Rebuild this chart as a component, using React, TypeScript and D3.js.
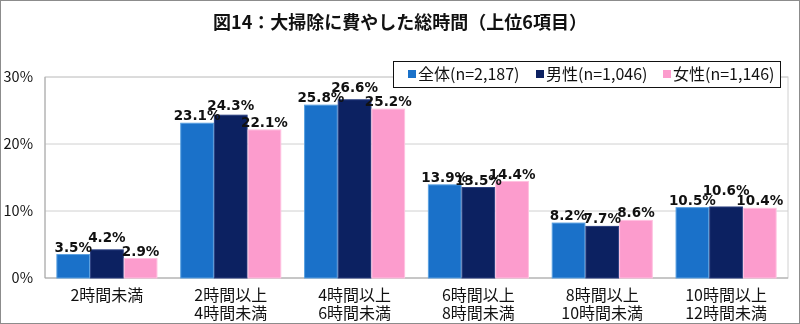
import React from "react";
import * as d3 from "d3";

const categories = ["2時間未満", "2時間以上\n4時間未満", "4時間以上\n6時間未満", "6時間以上\n8時間未満", "8時間以上\n10時間未満", "10時間以上\n12時間未満"];
const seriesNames = ["全体(n=2,187)", "男性(n=1,046)", "女性(n=1,146)"];
const allValues = [3.5, 23.1, 25.8, 13.9, 8.2, 10.5];
const maleValues = [4.2, 24.3, 26.6, 13.5, 7.7, 10.6];
const femaleValues = [2.9, 22.1, 25.2, 14.4, 8.6, 10.4];
const yTicks = [0, 10, 20, 30];
const title = "図14：大掃除に費やした総時間（上位6項目）";

const colors = ["#1a71c9", "#0c2161", "#fc9ccd"];
const strokes = ["#5aa0e0", "#2a3f80", "#ffc0e0"];

const W = 800, H = 324;
const left = 45, right = 788, top = 77, bottom = 278;
const jp = "'Noto Sans CJK JP', 'Noto Sans', sans-serif";

export default function App() {
  const series = [allValues, maleValues, femaleValues];
  const x0 = d3.scaleBand<string>().domain(categories).range([left, right]).paddingInner(0.184).paddingOuter(0.092);
  const x1 = d3.scaleBand<number>().domain([0, 1, 2]).range([0, x0.bandwidth()]);
  const y = d3.scaleLinear().domain([0, 30]).range([bottom, top]);

  const legendItems = [
    { sq: 408, tx: 418 },
    { sq: 536, tx: 546 },
    { sq: 663, tx: 673 },
  ];

  // label baseline positions with simple collision avoidance for the middle label
  const labelY = (ci: number) => {
    const nat = series.map((vals) => y(vals[ci]) - 3);
    const sideMin = Math.min(nat[0], nat[2]);
    if (nat[1] < sideMin) {
      nat[1] = Math.min(nat[1], sideMin - 10);
    }
    return nat;
  };

  return (
    <svg width={W} height={H} style={{ position: "fixed", left: 0, top: 0 }}>
      <rect x={0.5} y={0.5} width={W - 1} height={H - 1} fill="#fff" stroke="#8c8c8c" />
      <text x={400} y={29} textAnchor="middle" fontFamily={jp} fontSize={18} fontWeight={700} fill="#111">{title}</text>

      <rect x={left} y={top} width={right - left} height={bottom - top} fill="none" stroke="#d0d0d0" />
      {yTicks.map((t) => (
        <g key={t}>
          <line x1={left} x2={right} y1={y(t)} y2={y(t)} stroke={t === 0 ? "#a6a6a6" : "#d0d0d0"} />
          <text x={33} y={y(t)} dy="0.35em" textAnchor="end" fontFamily={jp} fontSize={14.5} fill="#111">{t}%</text>
        </g>
      ))}
      <line x1={left} x2={left} y1={top} y2={bottom} stroke="#a6a6a6" />

      {categories.map((c, ci) => {
        const ly = labelY(ci);
        return (
          <g key={c}>
            {series.map((vals, si) => {
              const bx = (x0(c) as number) + (x1(si) as number);
              const bw = x1.bandwidth();
              return (
                <rect key={si} x={bx + 0.5} y={y(vals[ci])} width={bw - 1} height={bottom - y(vals[ci])} fill={colors[si]} stroke={strokes[si]} strokeWidth={1} />
              );
            })}
            {series.map((vals, si) => {
              const bx = (x0(c) as number) + (x1(si) as number) + x1.bandwidth() / 2;
              return (
                <text key={"l" + si} x={bx} y={ly[si]} textAnchor="middle" fontFamily="'DejaVu Sans', Verdana, sans-serif" fontWeight={700} fontSize={13.5} fill="#111">
                  {vals[ci].toFixed(1)}%
                </text>
              );
            })}
            {c.split("\n").map((line, li, arr) => (
              <text key={"c" + li} x={(x0(c) as number) + x0.bandwidth() / 2} y={arr.length === 1 ? 301 : 301 + li * 18} textAnchor="middle" fontFamily={jp} fontSize={16} fill="#111">
                {line}
              </text>
            ))}
          </g>
        );
      })}

      <rect x={393.5} y={61.5} width={387} height={26} fill="#fff" stroke="#111" />
      {seriesNames.map((n, i) => (
        <g key={n}>
          <rect x={legendItems[i].sq} y={70} width={8} height={8} fill={colors[i]} />
          <text x={legendItems[i].tx} y={74} dy="0.35em" fontFamily={jp} fontSize={16} fill="#111">{n}</text>
        </g>
      ))}
    </svg>
  );
}
